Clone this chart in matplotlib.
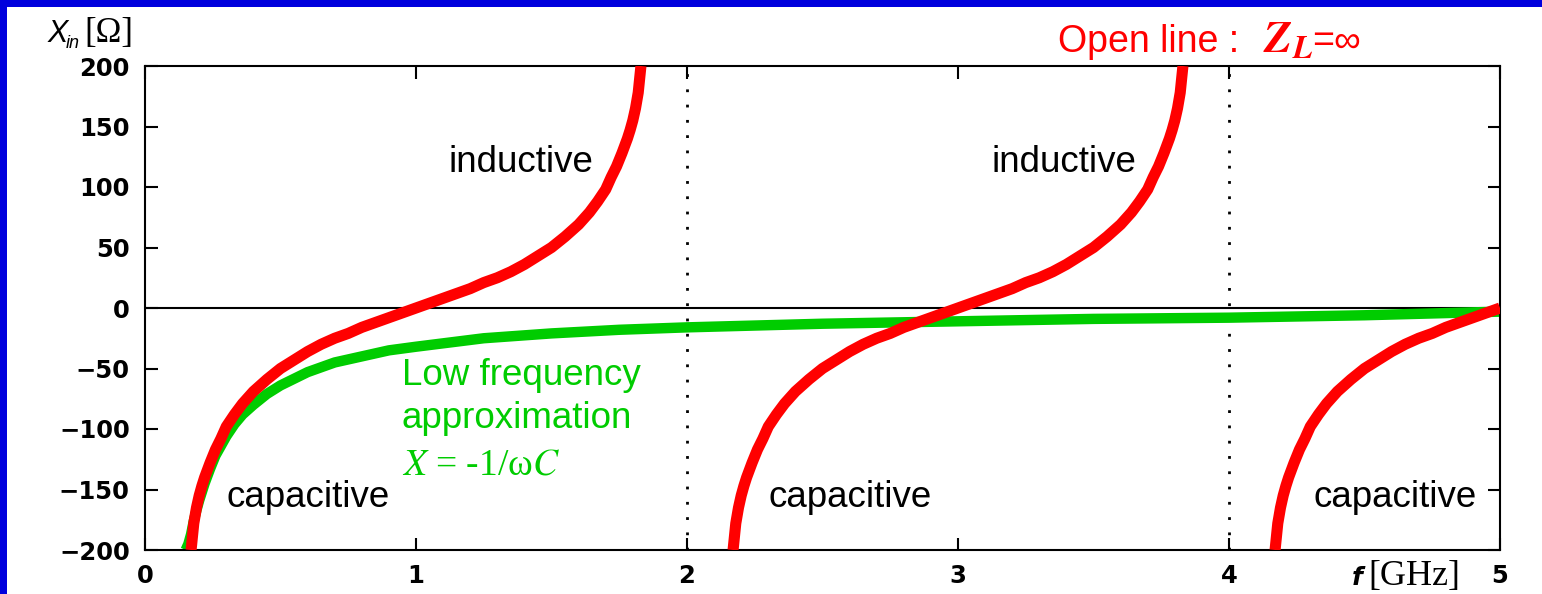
import matplotlib
matplotlib.use('Agg')
import matplotlib.pyplot as plt
from matplotlib.patches import Rectangle

# valeurs (f en GHz, X en ohm)
f_red1 = [0.17, 0.18, 0.19, 0.2, 0.21, 0.22, 0.24, 0.26, 0.28, 0.3, 0.33, 0.36, 0.4, 0.45,
          0.5, 0.55, 0.6, 0.65, 0.7, 0.75, 0.8, 0.85, 0.9, 0.95, 1.0,
          1.05, 1.1, 1.15, 1.2, 1.25, 1.3, 1.35, 1.4, 1.45, 1.5, 1.55, 1.6, 1.64, 1.67,
          1.7, 1.72, 1.74, 1.76, 1.78, 1.79, 1.8, 1.81, 1.82, 1.83]
x_red1 = [-200, -178, -165, -155, -147, -140, -128, -117, -108, -98, -88, -79, -69, -59,
          -50, -43, -36, -30, -25, -21, -16, -12, -8, -4, 0,
          4, 8, 12, 16, 21, 25, 30, 36, 43, 50, 59, 69, 79, 88,
          98, 108, 117, 128, 140, 147, 155, 165, 178, 200]
f_red2 = [2.17, 2.18, 2.19, 2.2, 2.21, 2.22, 2.24, 2.26, 2.28, 2.3, 2.33, 2.36, 2.4, 2.45,
          2.5, 2.55, 2.6, 2.65, 2.7, 2.75, 2.8, 2.85, 2.9, 2.95, 3.0,
          3.05, 3.1, 3.15, 3.2, 3.25, 3.3, 3.35, 3.4, 3.45, 3.5, 3.55, 3.6, 3.64, 3.67,
          3.7, 3.72, 3.74, 3.76, 3.78, 3.79, 3.8, 3.81, 3.82, 3.83]
x_red2 = [-200, -178, -165, -155, -147, -140, -128, -117, -108, -98, -88, -79, -69, -59,
          -50, -43, -36, -30, -25, -21, -16, -12, -8, -4, 0,
          4, 8, 12, 16, 21, 25, 30, 36, 43, 50, 59, 69, 79, 88,
          98, 108, 117, 128, 140, 147, 155, 165, 178, 200]
f_red3 = [4.17, 4.18, 4.19, 4.2, 4.21, 4.22, 4.24, 4.26, 4.28, 4.3, 4.33, 4.36, 4.4, 4.45,
          4.5, 4.55, 4.6, 4.65, 4.7, 4.75, 4.8, 4.85, 4.9, 4.95, 5.0]
x_red3 = [-200, -178, -165, -155, -147, -140, -128, -117, -108, -98, -88, -79, -69, -59,
          -50, -43, -36, -30, -25, -21, -16, -12, -8, -4, 0]

f_green = [0.15, 0.16, 0.17, 0.18, 0.19, 0.2, 0.22, 0.24, 0.26, 0.28, 0.3, 0.33, 0.36, 0.4,
           0.45, 0.5, 0.6, 0.7, 0.8, 0.9, 1.0, 1.25, 1.5, 1.75, 2.0, 2.5, 3.0, 3.5, 4.0,
           4.5, 5.0]
x_green = [-200, -195, -187, -176, -167, -159, -145, -133, -122, -114, -106, -96, -88, -80,
           -71, -64, -53, -45, -40, -35, -32, -25, -21, -18, -16, -13, -11, -9, -8,
           -6, -3]

y_ticks = [-200, -150, -100, -50, 0, 50, 100, 150, 200]
x_ticks = [0, 1, 2, 3, 4, 5]
dotted_f = [2, 4]

W, H = 1542, 594
fig = plt.figure(figsize=(W / 100, H / 100), dpi=100)
fig.patch.set_facecolor('white')

# cadre bleu (haut et gauche)
fig.patches.append(Rectangle((0, 1 - 7 / H), 1, 7 / H, transform=fig.transFigure,
                             facecolor='#0000DD', edgecolor='none'))
fig.patches.append(Rectangle((0, 0), 7 / W, 1, transform=fig.transFigure,
                             facecolor='#0000DD', edgecolor='none'))

ax = fig.add_axes([145 / W, 1 - 550 / H, (1500 - 145) / W, (550 - 66) / H])
ax.set_xlim(0, 5)
ax.set_ylim(-200, 200)

ax.axhline(0, color='black', lw=1.5, zorder=1)
for fv in dotted_f:
    ax.axvline(fv, color='black', lw=2, linestyle=(0, (1, 4.5)), zorder=1)

ax.plot(f_green, x_green, color='#00CC00', lw=7.5, solid_capstyle='butt',
        solid_joinstyle='round', zorder=2)
for fr, xr in [(f_red1, x_red1), (f_red2, x_red2), (f_red3, x_red3)]:
    ax.plot(fr, xr, color='#FF0000', lw=8, solid_capstyle='butt',
            solid_joinstyle='round', zorder=3)

ax.set_yticks(y_ticks)
ax.set_xticks(x_ticks)
ax.tick_params(direction='in', length=9, width=1.5, top=True, right=True,
               labelsize=17.5)
ax.tick_params(axis='y', pad=11)
ax.tick_params(axis='x', pad=10)
for lab in ax.get_xticklabels() + ax.get_yticklabels():
    lab.set_fontweight('bold')
    lab.set_fontfamily('DejaVu Sans')
for s in ax.spines.values():
    s.set_linewidth(1.5)

sans = 'Liberation Sans'
ax.text(1.12, 120, 'inductive', fontsize=26.5, family=sans, va='center')
ax.text(3.125, 120, 'inductive', fontsize=26.5, family=sans, va='center')
ax.text(0.30, -157, 'capacitive', fontsize=26.5, family=sans, va='center')
ax.text(2.30, -157, 'capacitive', fontsize=26.5, family=sans, va='center')
ax.text(4.31, -157, 'capacitive', fontsize=26.5, family=sans, va='center')
ax.text(0.948, -56, 'Low frequency', fontsize=26.5, family=sans, va='center', color='#00CC00')
ax.text(0.948, -91, 'approximation', fontsize=26.5, family=sans, va='center', color='#00CC00')

plt.rcParams['mathtext.fontset'] = 'stix'
ax.text(0.948, -130, r'$X$ = -1/ω$C$', fontsize=27, family='Liberation Serif',
        va='center', color='#00CC00')

# titres
fig.text(1058 / W, 1 - 52 / H, 'Open line : ', fontsize=27, family=sans,
         color='#FF0000', va='baseline')
fig.text(1263 / W, 1 - 52 / H, r'$\mathbfit{Z}_{\mathbfit{L}}$', fontsize=33,
         color='#FF0000', va='baseline')
fig.text(1312 / W, 1 - 52 / H, '=∞', fontsize=27, family=sans,
         color='#FF0000', va='baseline')

fig.text(48 / W, 1 - 42 / H, 'X', fontsize=22, family=sans, style='italic', va='baseline')
fig.text(66 / W, 1 - 48 / H, 'in', fontsize=13, family=sans, style='italic', va='baseline')
fig.text(84 / W, 1 - 42 / H, '[Ω]', fontsize=25, family='Liberation Serif', va='baseline')

fig.text(1352 / W, 1 - 585 / H, 'f', fontsize=18, family='DejaVu Sans', weight='bold',
         style='italic', va='baseline')
fig.text(1368 / W, 1 - 585 / H, '[GHz]', fontsize=26, family='Liberation Serif', va='baseline')

fig.savefig('out.png', dpi=100, facecolor='white')
